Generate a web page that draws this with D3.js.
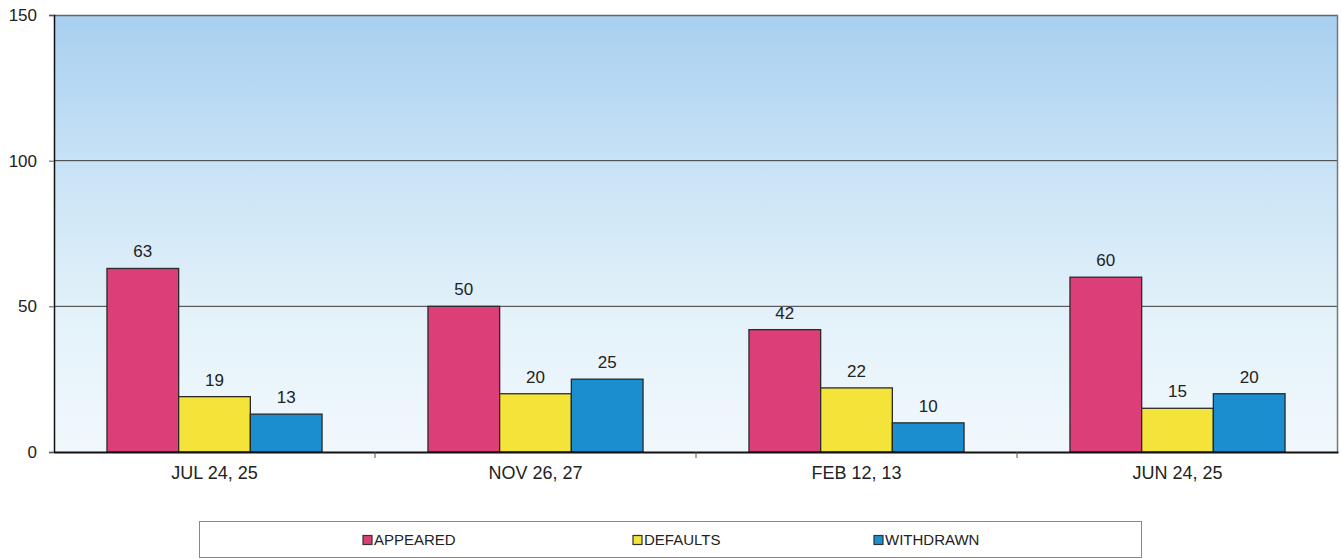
<!DOCTYPE html>
<html>
<head>
<meta charset="utf-8">
<script src="https://cdn.jsdelivr.net/npm/d3@7"></script>
<style>
  body { margin: 0; background: #fff; }
  text { font-family: "Liberation Sans", Arial, sans-serif; fill: #222; }
</style>
</head>
<body>
<div id="chart"></div>
<script>
// data
const categories = ['JUL 24, 25', 'NOV 26, 27', 'FEB 12, 13', 'JUN 24, 25'];
const seriesNames = ['APPEARED', 'DEFAULTS', 'WITHDRAWN'];
const appeared = [63, 50, 42, 60];
const defaults = [19, 20, 22, 15];
const withdrawn = [13, 25, 10, 20];
const yTicks = [0, 50, 100, 150];

const colors = ['#dc3f78', '#f4e43a', '#1b8ecf'];
const legendX = [363, 633, 874];

const width = 1341, height = 559;
const margin = {top: 15, right: 3, bottom: 107, left: 54};
const chartW = width - margin.left - margin.right;
const chartH = height - margin.top - margin.bottom;

const rows = categories.map((c, i) => ({
  cat: c,
  vals: [appeared[i], defaults[i], withdrawn[i]]
}));

const svg = d3.select('#chart').append('svg')
  .attr('width', width).attr('height', height);

// background gradient
const grad = svg.append('defs').append('linearGradient')
  .attr('id', 'bg').attr('x1', 0).attr('y1', 0).attr('x2', 0).attr('y2', 1);
grad.append('stop').attr('offset', '0%').attr('stop-color', '#a8cff0');
grad.append('stop').attr('offset', '35%').attr('stop-color', '#c9e3f6');
grad.append('stop').attr('offset', '70%').attr('stop-color', '#e4f2fa');
grad.append('stop').attr('offset', '100%').attr('stop-color', '#f1f8fc');

const g = svg.append('g').attr('transform', `translate(${margin.left},${margin.top})`);

g.append('rect')
  .attr('width', chartW).attr('height', chartH)
  .attr('fill', 'url(#bg)');

// scales
const x0 = d3.scaleBand().domain(categories).range([0, chartW]).paddingInner(0).paddingOuter(0);
const groupW = x0.bandwidth() * 0.67;
const x1 = d3.scaleBand().domain(seriesNames).range([0, groupW]).padding(0);
const y = d3.scaleLinear().domain([0, 150]).range([chartH, 0]);

// gridlines
g.selectAll('.grid').data(yTicks.filter(t => t > 0 && t < 150)).enter()
  .append('line')
  .attr('x1', 0).attr('x2', chartW)
  .attr('y1', d => y(d)).attr('y2', d => y(d))
  .attr('stroke', '#3a3a3a').attr('stroke-width', 1);

// top / right border
g.append('line').attr('x1', 0).attr('x2', chartW).attr('y1', 0.5).attr('y2', 0.5)
  .attr('stroke', '#666').attr('stroke-width', 1.5);
g.append('line').attr('x1', chartW - 0.5).attr('x2', chartW - 0.5).attr('y1', 0).attr('y2', chartH)
  .attr('stroke', '#777').attr('stroke-width', 1.5);

// bars
const groups = g.selectAll('.grp').data(rows).enter()
  .append('g')
  .attr('transform', d => `translate(${x0(d.cat) + (x0.bandwidth() - groupW) / 2},0)`);

groups.selectAll('rect').data(d => d.vals.map((v, k) => ({k, v}))).enter()
  .append('rect')
  .attr('x', d => x1(seriesNames[d.k]))
  .attr('y', d => y(d.v))
  .attr('width', x1.bandwidth())
  .attr('height', d => chartH - y(d.v))
  .attr('fill', d => colors[d.k])
  .attr('stroke', '#2a2a2a').attr('stroke-width', 1.3);

groups.selectAll('.val').data(d => d.vals.map((v, k) => ({k, v}))).enter()
  .append('text')
  .attr('x', d => x1(seriesNames[d.k]) + x1.bandwidth() / 2)
  .attr('y', d => y(d.v) - 11)
  .attr('text-anchor', 'middle')
  .style('font-size', '17px')
  .text(d => d.v);

// axes
const yAxis = d3.axisLeft(y).tickValues(yTicks).tickSize(5).tickPadding(12);
const yAxisG = g.append('g').call(yAxis);
yAxisG.select('.domain').attr('stroke', '#111').attr('stroke-width', 1.5);
yAxisG.selectAll('.tick line').attr('stroke', '#555');
yAxisG.selectAll('text').style('font-size', '17px').attr('fill', '#222')
  .style('font-family', '"Liberation Sans", Arial, sans-serif');

const xAxis = d3.axisBottom(x0).tickSize(0).tickPadding(14);
const xAxisG = g.append('g').attr('transform', `translate(0,${chartH})`).call(xAxis);
xAxisG.select('.domain').attr('stroke', '#111').attr('stroke-width', 2);
xAxisG.selectAll('text').style('font-size', '18px').attr('fill', '#222')
  .style('font-family', '"Liberation Sans", Arial, sans-serif');

// boundary ticks between categories
xAxisG.selectAll('.bound').data(categories.slice(1)).enter()
  .append('line')
  .attr('x1', d => x0(d)).attr('x2', d => x0(d))
  .attr('y1', 0).attr('y2', 6)
  .attr('stroke', '#555');

// legend
const legend = svg.append('g');
legend.append('rect')
  .attr('x', 199.5).attr('y', 521.5).attr('width', 942).attr('height', 36)
  .attr('fill', '#fff').attr('stroke', '#888').attr('stroke-width', 1);

const items = legend.selectAll('.item').data(seriesNames).enter()
  .append('g')
  .attr('transform', (d, i) => `translate(${legendX[i]},540)`);
items.append('rect')
  .attr('x', 0).attr('y', -4.5).attr('width', 9).attr('height', 9)
  .attr('fill', (d, i) => colors[i])
  .attr('stroke', '#333').attr('stroke-width', 1.2);
items.append('text')
  .attr('x', 11).attr('y', 0).attr('dy', '0.35em')
  .style('font-size', '15px')
  .text(d => d);
</script>
</body>
</html>
